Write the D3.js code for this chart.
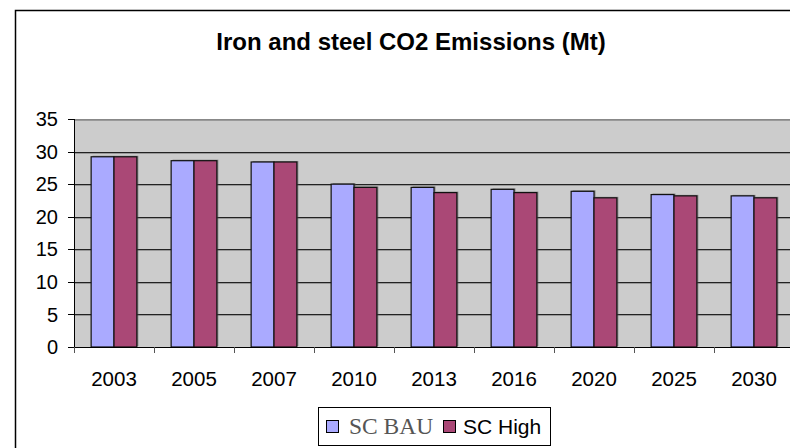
<!DOCTYPE html>
<html>
<head>
<meta charset="utf-8">
<script src="https://cdn.jsdelivr.net/npm/d3@7"></script>
<style>
  body { margin: 0; background: #fff; }
  svg text { font-family: "Liberation Sans", Arial, sans-serif; fill: #000; }
</style>
</head>
<body>
<div id="chart"></div>
<script>
var years = ['2003', '2005', '2007', '2010', '2013', '2016', '2020', '2025', '2030'];
var seriesNames = ['SC BAU', 'SC High'];
var bauValues  = [29.2, 28.6, 28.4, 25.0, 24.5, 24.2, 23.9, 23.4, 23.2];
var highValues = [29.2, 28.6, 28.4, 24.5, 23.7, 23.7, 22.9, 23.2, 22.9];
var yTicks = [0, 5, 10, 15, 20, 25, 30, 35];

var colors = ['#aaaaff', '#aa4876'];

var W = 790, H = 448;
var plot = {left: 74, top: 119, right: 794, bottom: 347};

var svg = d3.select('#chart').append('svg')
  .attr('width', W)
  .attr('height', H);

// outer chart border
svg.append('rect')
  .attr('x', 15.5).attr('y', 10.5)
  .attr('width', 800).attr('height', 500)
  .attr('fill', '#fff')
  .attr('stroke', '#000')
  .attr('stroke-width', 1.5);

svg.append('text')
  .attr('x', 411)
  .attr('y', 50)
  .attr('text-anchor', 'middle')
  .style('font-size', '24px')
  .style('font-weight', 'bold')
  .text('Iron and steel CO2 Emissions (Mt)');

var x = d3.scaleBand()
  .domain(years)
  .range([plot.left, plot.right])
  .paddingInner(0)
  .paddingOuter(0);

var x1 = d3.scaleBand()
  .domain(seriesNames)
  .range([0, x.bandwidth()])
  .paddingOuter(0.75)
  .paddingInner(0);

var y = d3.scaleLinear()
  .domain([0, 35])
  .range([plot.bottom, plot.top]);

// plot area
svg.append('rect')
  .attr('x', plot.left).attr('y', plot.top)
  .attr('width', plot.right - plot.left)
  .attr('height', plot.bottom - plot.top)
  .attr('fill', '#cccccc');

// gridlines
var grid = svg.append('g').attr('class', 'grid');
grid.selectAll('.gs')
  .data(yTicks.filter(function(d) { return d > 0; }))
  .enter().append('line')
  .attr('x1', plot.left).attr('x2', plot.right)
  .attr('y1', function(d) { return Math.round(y(d)) + 1.5; })
  .attr('y2', function(d) { return Math.round(y(d)) + 1.5; })
  .attr('stroke', '#999');
grid.selectAll('.gl')
  .data(yTicks.filter(function(d) { return d > 0; }))
  .enter().append('line')
  .attr('x1', plot.left).attr('x2', plot.right)
  .attr('y1', function(d) { return Math.round(y(d)) + 0.5; })
  .attr('y2', function(d) { return Math.round(y(d)) + 0.5; })
  .attr('stroke', function(d) { return d === 35 ? '#888' : '#222'; });

var data = years.map(function(yr, i) {
  return {year: yr, vals: [bauValues[i], highValues[i]]};
});

var groups = svg.selectAll('.grp')
  .data(data)
  .enter().append('g')
  .attr('class', 'grp')
  .attr('transform', function(d) { return 'translate(' + x(d.year) + ',0)'; });

function barData(d) {
  return d.vals.map(function(v, j) { return {name: seriesNames[j], value: v, idx: j}; });
}

// shadows
groups.selectAll('.shadow')
  .data(barData)
  .enter().append('rect')
  .attr('class', 'shadow')
  .attr('x', function(d) { return x1(d.name) + 1.5; })
  .attr('y', function(d) { return y(d.value) - 1; })
  .attr('width', x1.bandwidth())
  .attr('height', function(d) { return plot.bottom - y(d.value); })
  .attr('fill', '#555')
  .attr('opacity', 0.6);

groups.selectAll('.bar')
  .data(barData)
  .enter().append('rect')
  .attr('class', 'bar')
  .attr('x', function(d) { return x1(d.name); })
  .attr('y', function(d) { return y(d.value); })
  .attr('width', x1.bandwidth())
  .attr('height', function(d) { return plot.bottom - y(d.value); })
  .attr('fill', function(d) { return colors[d.idx]; })
  .attr('stroke', '#111')
  .attr('stroke-width', 1.2);

// y axis
var yAxis = svg.append('g');
yAxis.append('line')
  .attr('x1', plot.left + 0.5).attr('x2', plot.left + 0.5)
  .attr('y1', plot.top).attr('y2', plot.bottom + 6)
  .attr('stroke', '#000');
yAxis.selectAll('.yt')
  .data(yTicks)
  .enter().append('line')
  .attr('x1', plot.left - 6).attr('x2', plot.left)
  .attr('y1', function(d) { return Math.round(y(d)) + 0.5; })
  .attr('y2', function(d) { return Math.round(y(d)) + 0.5; })
  .attr('stroke', '#000');
yAxis.selectAll('.yl')
  .data(yTicks)
  .enter().append('text')
  .attr('x', 58)
  .attr('y', function(d) { return y(d); })
  .attr('dy', '0.36em')
  .attr('text-anchor', 'end')
  .style('font-size', '20px')
  .text(function(d) { return d; });

// x axis
var xAxis = svg.append('g');
xAxis.append('line')
  .attr('x1', plot.left).attr('x2', plot.right)
  .attr('y1', plot.bottom + 0.5).attr('y2', plot.bottom + 0.5)
  .attr('stroke', '#000');
xAxis.selectAll('.xt')
  .data(years)
  .enter().append('line')
  .attr('x1', function(d) { return Math.round(x(d)) + 0.5; })
  .attr('x2', function(d) { return Math.round(x(d)) + 0.5; })
  .attr('y1', plot.bottom).attr('y2', plot.bottom + 6)
  .attr('stroke', '#555');
xAxis.selectAll('.xl')
  .data(years)
  .enter().append('text')
  .attr('x', function(d) { return x(d) + x.bandwidth() / 2; })
  .attr('y', 386)
  .attr('text-anchor', 'middle')
  .style('font-size', '20.5px')
  .text(function(d) { return d; });

// legend
var legend = svg.append('g');
legend.append('rect')
  .attr('x', 318.5).attr('y', 407.5)
  .attr('width', 232).attr('height', 38)
  .attr('fill', '#fff')
  .attr('stroke', '#000');

var legendItems = [
  {name: seriesNames[0], sx: 326, tx: 349, font: '"Liberation Serif", "DejaVu Serif", serif', size: '23.5px', fill: '#555'},
  {name: seriesNames[1], sx: 443, tx: 463, font: '"Liberation Sans", Arial, sans-serif', size: '21px', fill: '#000'}
];
legend.selectAll('.sw')
  .data(legendItems)
  .enter().append('rect')
  .attr('x', function(d) { return d.sx + 0.5; })
  .attr('y', 420.5)
  .attr('width', 12).attr('height', 12)
  .attr('fill', function(d, i) { return colors[i]; })
  .attr('stroke', '#000');
legend.selectAll('.lt')
  .data(legendItems)
  .enter().append('text')
  .attr('x', function(d) { return d.tx; })
  .attr('y', 434)
  .style('font-family', function(d) { return d.font; })
  .style('font-size', function(d) { return d.size; })
  .style('fill', function(d) { return d.fill; })
  .text(function(d) { return d.name; });
</script>
</body>
</html>
